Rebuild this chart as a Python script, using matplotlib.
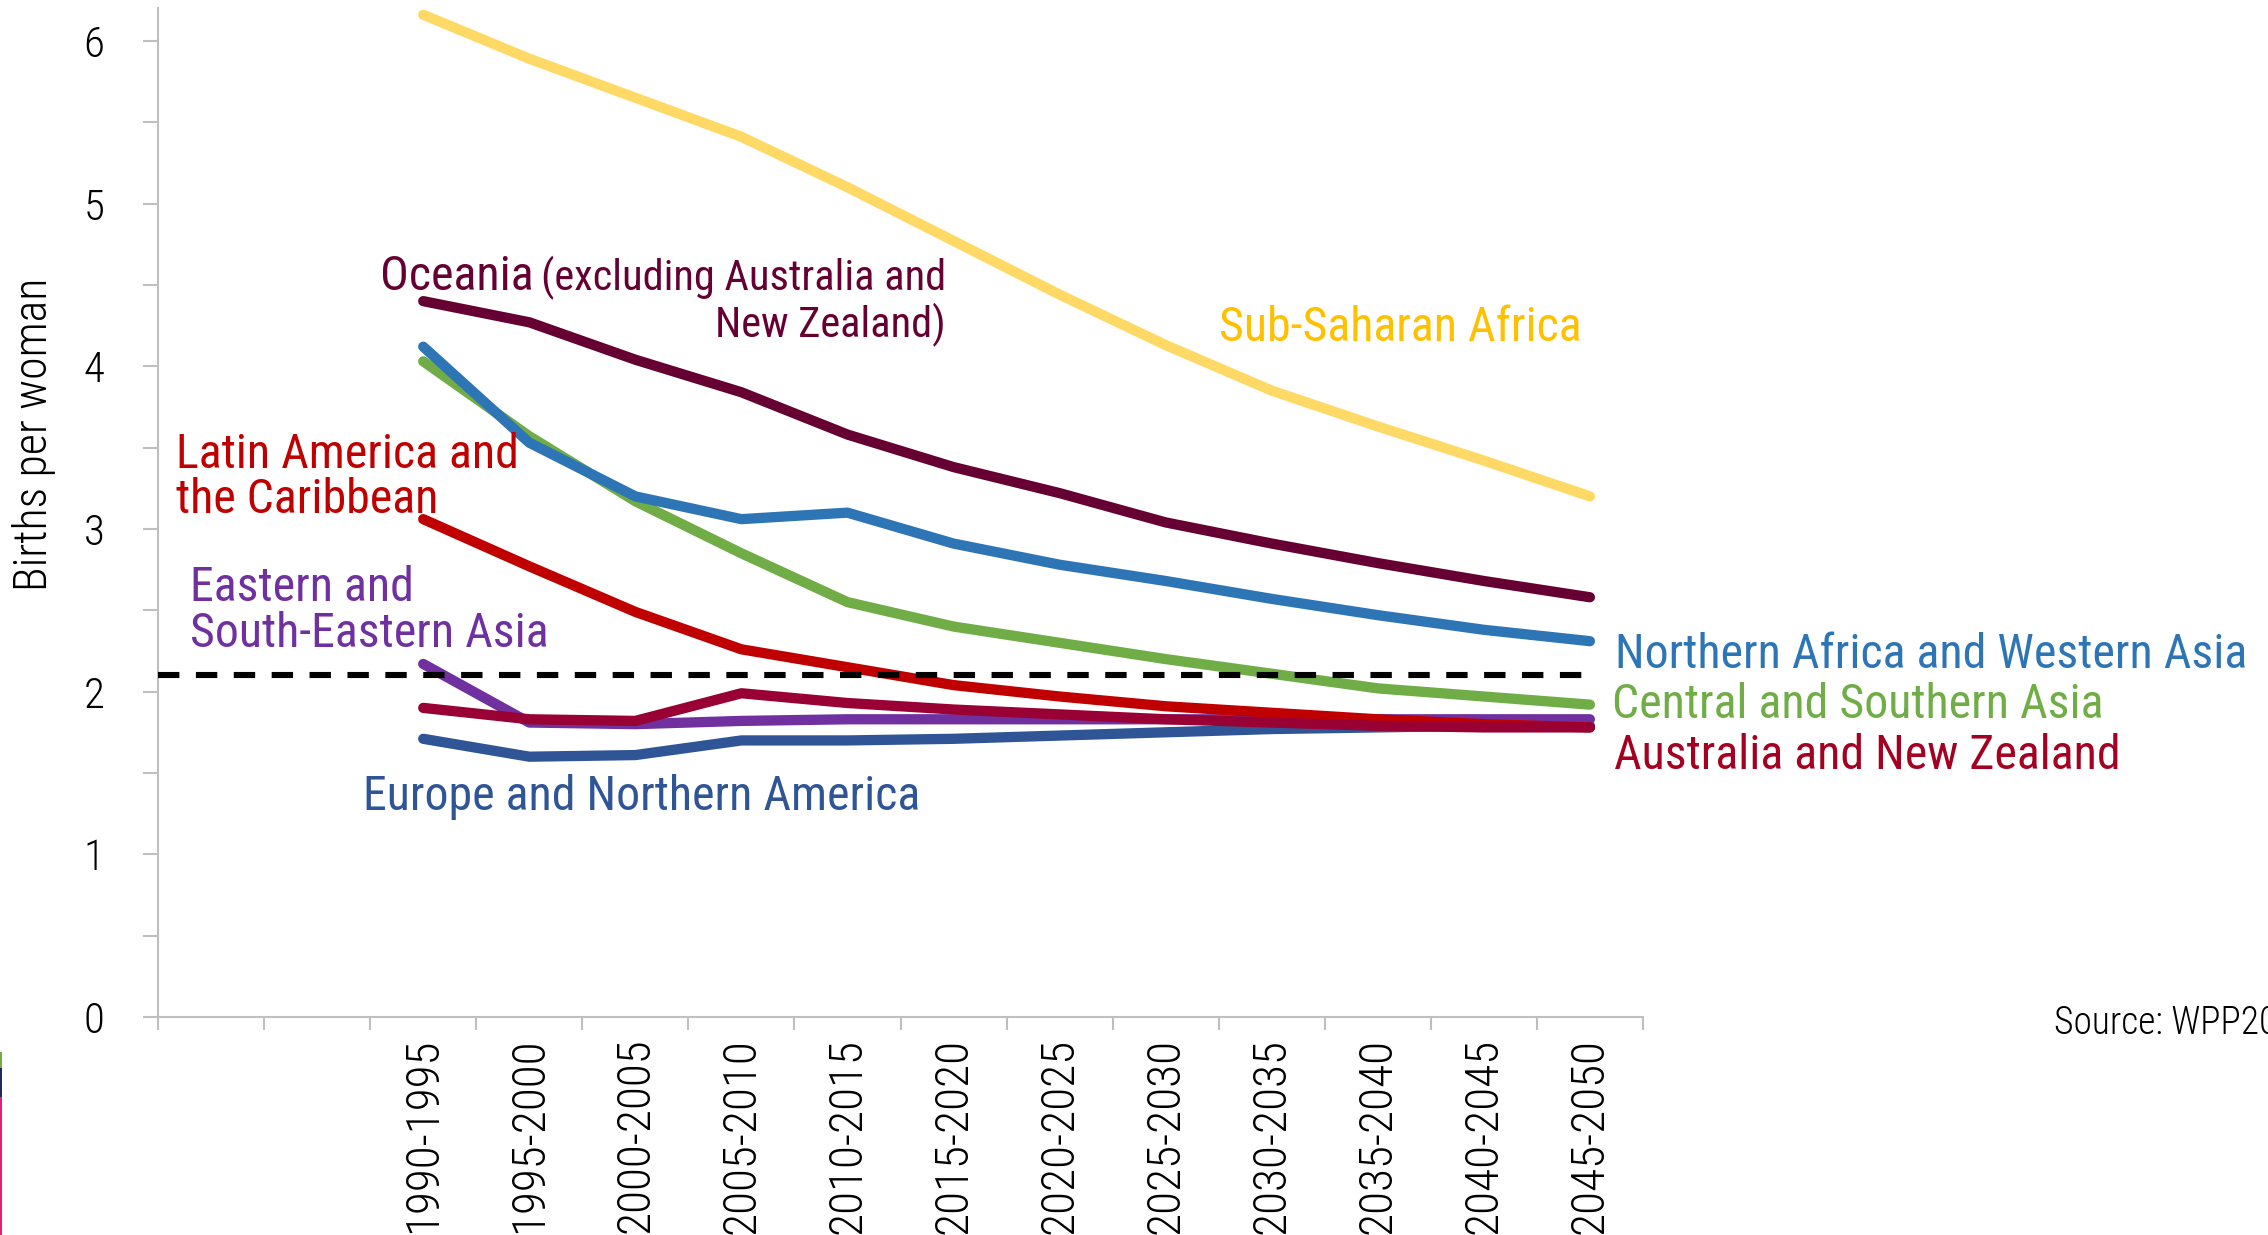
import matplotlib
matplotlib.use('Agg')
import matplotlib.pyplot as plt
from matplotlib.patches import Rectangle
import numpy as np

plt.rcParams['font.family'] = ['Roboto Condensed', 'DejaVu Sans']

# two empty slots before the first period, as in the original chart
categories = ['', '', '1990-1995', '1995-2000', '2000-2005', '2005-2010', '2010-2015',
              '2015-2020', '2020-2025', '2025-2030', '2030-2035', '2035-2040',
              '2040-2045', '2045-2050']
periods = categories[2:]

ssa = [6.16, 5.89, 5.65, 5.41, 5.10, 4.77, 4.44, 4.13, 3.85, 3.63, 3.42, 3.20]
oceania = [4.40, 4.27, 4.04, 3.84, 3.58, 3.38, 3.22, 3.04, 2.91, 2.79, 2.68, 2.58]
nawa = [4.12, 3.53, 3.20, 3.06, 3.10, 2.91, 2.78, 2.68, 2.57, 2.47, 2.38, 2.31]
csa = [4.03, 3.57, 3.17, 2.85, 2.55, 2.40, 2.30, 2.20, 2.11, 2.02, 1.97, 1.92]
lac = [3.06, 2.77, 2.49, 2.26, 2.15, 2.04, 1.97, 1.91, 1.87, 1.83, 1.80, 1.78]
esea = [2.17, 1.81, 1.80, 1.82, 1.83, 1.83, 1.83, 1.83, 1.83, 1.83, 1.83, 1.83]
anz = [1.90, 1.83, 1.82, 1.99, 1.93, 1.89, 1.86, 1.83, 1.81, 1.79, 1.78, 1.78]
ena = [1.71, 1.60, 1.61, 1.70, 1.70, 1.71, 1.73, 1.75, 1.77, 1.78, 1.79, 1.79]
replacement = 2.1

fig = plt.figure(figsize=(22.68, 12.35), dpi=100)
ax = fig.add_axes([0.0697, 0.1765, 0.6547, 0.8168])

x = np.array([categories.index(p) for p in periods])

# bottom to top
series = [
    (ena, '#2F5597'),
    (esea, '#7030A0'),
    (lac, '#C00000'),
    (anz, '#990033'),
    (csa, '#70AD47'),
    (nawa, '#2E75B6'),
    (oceania, '#660033'),
    (ssa, '#FFD966'),
]
for vals, col in series:
    ax.plot(x, vals, color=col, lw=7.4, solid_capstyle='round',
            solid_joinstyle='round')

ax.plot([-0.5, x[-1]], [replacement, replacement], color='black', lw=4.4,
        dashes=(3.5, 2.7), zorder=5)

ax.set_xlim(-0.5, len(categories) - 0.5)
ax.set_ylim(0, 6.2)

for s in ['top', 'right']:
    ax.spines[s].set_visible(False)
for s in ['left', 'bottom']:
    ax.spines[s].set_color('#BFBFBF')
    ax.spines[s].set_linewidth(1.5)

# x: tick marks between categories, labels at the centres
ax.set_xticks(np.arange(-0.5, len(categories)))
ax.set_xticklabels([])
ax.set_xticks(np.arange(len(categories)), minor=True)
ax.set_xticklabels(categories, minor=True, rotation=90, fontsize=34, va='top',
                   fontweight='light')
ax.tick_params(axis='x', which='major', direction='out', length=9.5,
               width=1.5, color='#BFBFBF')
ax.tick_params(axis='x', which='minor', length=0, pad=15)

ax.set_yticks(np.arange(0, 7, 1))
ax.set_yticklabels([str(v) for v in range(7)], fontweight='light')
ax.set_yticks(np.arange(0.5, 6.2, 1), minor=True)
ax.tick_params(axis='y', which='both', direction='out', length=10.5,
               width=1.5, color='#BFBFBF', labelsize=31, pad=28)

fig.text(34.5 / 2268, 1 - 434 / 1235, 'Births per woman', rotation=90,
         ha='center', va='center', fontsize=33, fontweight='light')

lab = dict(fontsize=34.5, va='baseline')
ax.text(1.593, 4.468, 'Oceania', color='#660033', ha='left', **lab)
ax.text(6.929, 4.468, '(excluding Australia and', color='#660033', ha='right',
        fontsize=30.5, va='baseline')
ax.text(6.929, 4.18, 'New Zealand)', color='#660033', ha='right',
        fontsize=30.5, va='baseline')
ax.text(12.92, 4.157, 'Sub-Saharan Africa', color='#FFC000', ha='right', **lab)
ax.text(-0.33, 3.376, 'Latin America and', color='#C00000', ha='left', **lab)
ax.text(-0.33, 3.099, 'the Caribbean', color='#C00000', ha='left', **lab)
ax.text(-0.198, 2.557, 'Eastern and', color='#7030A0', ha='left', **lab)
ax.text(-0.198, 2.277, 'South-Eastern Asia', color='#7030A0', ha='left', **lab)
ax.text(1.433, 1.274, 'Europe and Northern America', color='#2F5597',
        ha='left', **lab)
ax.text(13.236, 2.145, 'Northern Africa and Western Asia', color='#2E75B6',
        ha='left', clip_on=False, **lab)
ax.text(13.21, 1.836, 'Central and Southern Asia', color='#70AD47',
        ha='left', clip_on=False, **lab)
ax.text(13.23, 1.527, 'Australia and New Zealand', color='#A50021',
        ha='left', clip_on=False, **lab)

fig.text(2054 / 2268, 1 - 1023 / 1235, 'Source: WPP2019', ha='left',
         va='center', fontsize=27, fontweight='light')

# thin coloured strip on the left edge of the original image
for y0, y1, col in [(1052, 1068, '#70AD47'), (1068, 1097, '#1F2A5C'),
                    (1097, 1235, '#E0207A')]:
    fig.add_artist(Rectangle((0, 1 - y1 / 1235), 2 / 2268, (y1 - y0) / 1235,
                             transform=fig.transFigure, color=col, lw=0))

fig.savefig('out.png', dpi=100)
